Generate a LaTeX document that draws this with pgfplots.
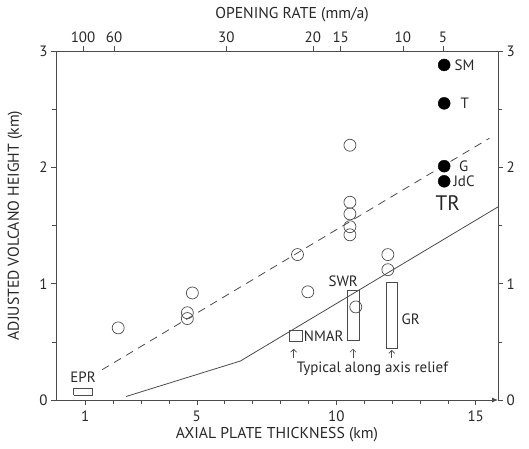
\documentclass[border=0pt]{standalone}
\usepackage{fontspec}
\setmainfont{PT Sans}
\usepackage{pgfplots}
\pgfplotsset{compat=1.18}
\usetikzlibrary{arrows.meta}

\definecolor{axgray}{RGB}{75,75,75}
\definecolor{txtgray}{RGB}{40,40,40}

\begin{document}
\begin{tikzpicture}[font=\fontsize{15}{17}\selectfont]
\pgfplotsset{
  base/.style={
    scale only axis, width=442pt, height=349pt,
    xmin=-0.05, xmax=15.8, ymin=0, ymax=3,
    tick align=outside, major tick length=5pt, minor tick length=3.5pt,
    tick style={axgray, line width=0.6pt},
    axis line style={axgray, line width=0.8pt},
    /pgf/number format/assume math mode=true,
    tick label style={font=\fontsize{15}{17}\selectfont, text=txtgray},
    label style={font=\fontsize{15.7}{18}\selectfont, text=txtgray},
    clip=false,
  }
}
\begin{axis}[base,
  axis x line*=bottom, axis y line*=left,
  x axis line style={-{Latex[length=6pt,width=5pt]}},
  y axis line style={-},
  xtick={1,5,10,15}, minor xtick={2,3,4,6,7,8,9,11,12,13,14},
  ytick={0,1,2,3}, minor ytick={0.5,1.5,2.5},
  xticklabel style={yshift=-2pt},
  xlabel={AXIAL PLATE THICKNESS (km)},
  ylabel={ADJUSTED VOLCANO HEIGHT (km)},
  xlabel style={at={(axis description cs:0.5,-0.1003)}, anchor=center},
  ylabel style={at={(axis description cs:-0.0928,0.5)}, anchor=center},
]
\coordinate (SW) at (rel axis cs:0,0);
\coordinate (NE) at (rel axis cs:1,1);

% model lines
\addplot[axgray, line width=0.8pt, dash pattern=on 8pt off 6pt] coordinates {(1.6,0.26) (15.49,2.25)};
\addplot[axgray, line width=0.8pt] coordinates {(2.46,0.03) (6.56,0.335) (15.8,1.66)};

% along-axis relief boxes
\addplot[axgray, line width=0.7pt] coordinates {(0.59,0.04) (1.27,0.04) (1.27,0.10) (0.59,0.10) (0.59,0.04)};
\addplot[axgray, line width=0.7pt] coordinates {(8.33,0.50) (8.80,0.50) (8.80,0.60) (8.33,0.60) (8.33,0.50)};
\addplot[axgray, line width=0.7pt] coordinates {(10.38,0.51) (10.81,0.51) (10.81,0.94) (10.38,0.94) (10.38,0.51)};
\addplot[axgray, line width=0.7pt] coordinates {(11.78,0.44) (12.18,0.44) (12.18,1.01) (11.78,1.01) (11.78,0.44)};

% volcanoes, open circles
\addplot[only marks, mark=o, mark size=6pt, mark options={draw=axgray, line width=0.7pt}] coordinates {
  (2.18,0.62) (4.66,0.75) (4.66,0.70) (4.84,0.92)
  (8.98,0.93) (8.61,1.25)
  (10.49,2.19) (10.49,1.70) (10.49,1.60) (10.49,1.49) (10.49,1.42)
  (11.85,1.25) (11.85,1.12) (10.70,0.80)
};
% TR volcanoes, filled
\addplot[only marks, mark=*, mark size=6pt, mark options={fill=black, draw=black}] coordinates {
  (13.87,2.88) (13.87,2.55) (13.87,2.01) (13.87,1.88)
};

\node[anchor=west, text=txtgray] at (axis cs:14.12,2.88) {SM};
\node[anchor=west, text=txtgray] at (axis cs:14.33,2.55) {T};
\node[anchor=west, text=txtgray] at (axis cs:14.28,2.01) {G};
\node[anchor=west, text=txtgray] at (axis cs:14.08,1.88) {JdC};
\node[text=txtgray, font=\fontsize{21}{23}\selectfont] at (axis cs:14.0,1.69) {TR};

\node[text=txtgray] at (axis cs:0.92,0.20) {EPR};
\node[anchor=west, text=txtgray, inner sep=1pt] at (axis cs:8.80,0.55) {NMAR};
\node[text=txtgray] at (axis cs:10.25,1.02) {SWR};
\node[anchor=west, text=txtgray] at (axis cs:12.22,0.69) {GR};

\draw[axgray, line width=0.6pt, -{Straight Barb[length=3pt]}] (axis cs:8.47,0.36) -- (axis cs:8.47,0.44);
\draw[axgray, line width=0.6pt, -{Straight Barb[length=3pt]}] (axis cs:10.6,0.36) -- (axis cs:10.6,0.44);
\draw[axgray, line width=0.6pt, -{Straight Barb[length=3pt]}] (axis cs:11.99,0.36) -- (axis cs:11.99,0.43);
\node[text=txtgray] at (axis cs:11.3,0.27) {Typical along axis relief};
\end{axis}

\begin{axis}[base,
  axis x line*=top, axis y line*=right,
  x axis line style={-}, y axis line style={-},
  xtick={0.92,2.03,6.06,9.16,10.16,12.39,13.83},
  xticklabels={100,60,30,20,15,10,5},
  ytick={0,1,2,3}, minor ytick={0.5,1.5,2.5},
  xlabel={OPENING RATE (mm/a)},
  xlabel style={at={(axis description cs:0.534,1.103)}, anchor=center},
]
\end{axis}

\pgfresetboundingbox
\path ([shift={(-56pt,-48pt)}]SW) rectangle ([shift={(31pt,51pt)}]NE);
\end{tikzpicture}
\end{document}
